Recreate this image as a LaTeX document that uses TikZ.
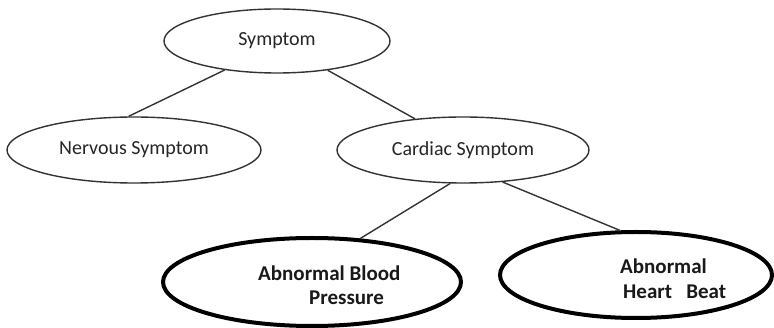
\documentclass[tikz,border=0pt]{standalone}
\usepackage{fontspec}
\setmainfont{Carlito}
\usetikzlibrary{shapes.geometric}
\begin{document}
\begin{tikzpicture}[x=1pt,y=-1pt,
  plainell/.style={ellipse, draw=black!80, line width=1.4pt, inner sep=0pt,
    font=\fontsize{20}{24}\selectfont, text=black!85},
  boldell/.style={ellipse, draw=black, line width=4pt, inner sep=0pt},
  lbl/.style={font=\fontsize{21}{25}\selectfont\bfseries, text=black!90, inner sep=0pt, anchor=west},
  link/.style={draw=black!80, line width=1.4pt}]
\useasboundingbox[fill=white] (0,0) rectangle (774,328);
\node[plainell, minimum width=226pt, minimum height=64pt] (sym) at (277,41) {Symptom};
\node[plainell, minimum width=254pt, minimum height=66pt] (ner) at (134,150) {Nervous Symptom};
\node[plainell, minimum width=252pt, minimum height=66pt] (car) at (463,150) {Cardiac Symptom};
\node[boldell, minimum width=298pt, minimum height=88pt] (abp) at (312,282) {};
\node[boldell, minimum width=272pt, minimum height=86pt] (ahb) at (636,275) {};
\node[lbl] (abp1) at (258,273) {Abnormal Blood};
\node[lbl] (abp2) at (309,298) {Pressure};
\node[lbl] (ahb1) at (620,266) {Abnormal};
\node[lbl] (ahb2) at (623,292) {Heart\ \ \ Beat};
\draw[link] (sym.209) -- (ner.99);
\draw[link] (sym.330) -- (car.147);
\draw[link] (car.249) -- (abp.42);
\draw[link] (car.321) -- (ahb.110);
\end{tikzpicture}
\end{document}
